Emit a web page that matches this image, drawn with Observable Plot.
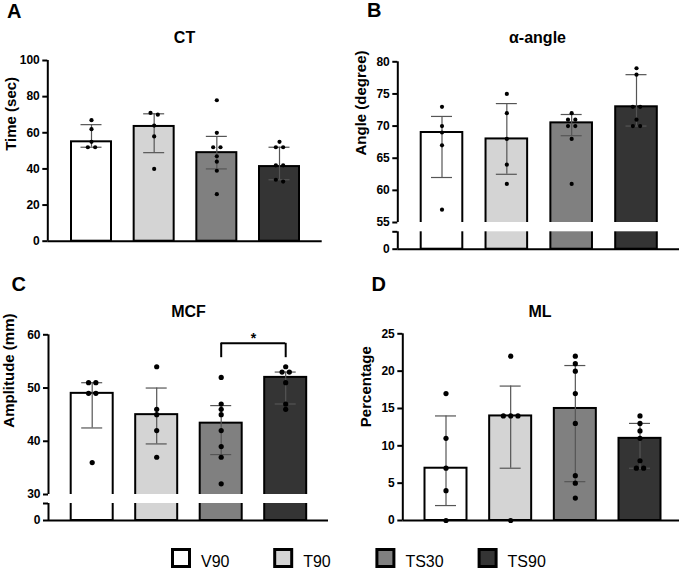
<!DOCTYPE html>
<html><head><meta charset="utf-8">
<script src="https://cdn.jsdelivr.net/npm/d3@7"></script>
<script src="https://cdn.jsdelivr.net/npm/@observablehq/plot@0.6"></script>
<style>
body{margin:0;background:#fff;}
#fig{position:relative;width:685px;height:571px;overflow:hidden;font-family:"Liberation Sans",Arial,sans-serif;}
#fig > svg, #fig > div{position:absolute;}
</style></head><body><div id="fig"></div>
<script>
// ---------- data ----------
const groups = ["V90", "T90", "TS30", "TS90"];
const fills = ["#ffffff", "#d4d4d4", "#808080", "#343434"];

// A: CT
const ctTitle = "CT", ctLabel = "Time (sec)";
const ctBar = [55, 63.5, 49, 41.3];
const ctLow = [52, 49, 40, 34];
const ctHigh = [64.5, 70.5, 58, 52];
const ctPoints = [[67, 62, 55, 52, 52], [71, 70, 64, 58, 40], [78, 60, 52, 52, 47, 44, 39, 26], [55, 52, 52, 42, 42, 34, 33]];
const ctTicks = [0, 20, 40, 60, 80, 100];

// B: alpha-angle
const angTitle = "α-angle", angLabel = "Angle (degree)";
const angBar = [69, 68, 70.5, 73];
const angLow = [62, 62.5, 68.5, 70];
const angHigh = [71.5, 73.5, 71.8, 78];
const angPoints = [[73, 70, 69, 67, 57], [75, 72, 68, 64, 61], [72, 71, 71, 70, 70, 68, 61], [79, 78, 73, 73, 71, 70, 70]];
const angTicks = [0, 55, 60, 65, 70, 75, 80];
const angBreak = [40, 55];

// C: MCF
const mcfTitle = "MCF", mcfLabel = "Amplitude (mm)";
const mcfBar = [49, 45, 43.4, 52];
const mcfLow = [42.5, 39.5, 37.5, 47];
const mcfHigh = [51, 50, 46.7, 53];
const mcfPoints = [[51, 51, 49, 49, 36], [54, 46, 45, 42, 37], [52, 47, 46, 45, 42, 39, 37, 32], [54, 53, 53, 51, 47, 46]];
const mcfTicks = [0, 30, 40, 50, 60];
const mcfBreak = [20, 30];
const mcfSig = [{a: 2, b: 3, y: 58.4, drop: 55.7, text: "*"}];

// D: ML
const mlTitle = "ML", mlLabel = "Percentage";
const mlBar = [7, 14, 15, 11];
const mlLow = [2, 7, 5.2, 7];
const mlHigh = [14, 18, 20.75, 13];
const mlPoints = [[17, 11, 7, 4, 0], [22, 14, 14, 14, 0], [22, 21, 20, 17, 13, 6, 5, 3], [14, 13, 12, 11, 8, 7, 7]];
const mlTicks = [0, 5, 10, 15, 20, 25];

// ---------- helpers ----------
function placeDots(vals, yPx, r) {
  const s = 7.3;
  const sorted = vals.slice().sort((a, b) => b - a);
  const rows = d3.groups(sorted, v => v);
  const out = [];
  let prev = null;
  for (const [v, arr] of rows) {
    const n = arr.length;
    const row = arr.map((val, j) => ({v: val, off: (j - (n - 1) / 2) * s}));
    if (prev && prev.length === 1 && n === 1 && Math.abs(yPx(prev[0].v) - yPx(v)) < 2 * r) {
      prev[0].off = -s / 2; row[0].off = s / 2;
    }
    out.push(...row);
    prev = row;
  }
  return out;
}

function makePanel(c) {
  const k = (c.c3 - c.c0) / 3;
  const x0 = -(c.c0 - c.mL) / k;
  const x1 = 3 + (c.width - c.mR - c.c3) / k;
  // broken-axis mapping: data value -> continuous axis position (pixel-proportional), fed to Plot's linear y scale
  const f = d3.scaleLinear(c.yDomain, c.yRange);
  const top = d3.min(c.yRange), bottom = d3.max(c.yRange);
  const bars = groups.map((g, i) => ({g, i, v: c.bar[i], lo: c.low[i], hi: c.high[i], fill: fills[i]}));
  const dots = [];
  c.points.forEach((vals, i) => placeDots(vals, f, c.r).forEach(p => dots.push({g: groups[i], v: p.v, x: i + p.off / k})));
  const hw = c.barHalf / k, cap = 10.5 / k;
  const tickVals = c.brk ? [...c.ticks, c.brk[0]].sort((a, b) => a - b) : c.ticks;
  const labelOf = new Map(tickVals.map(t => [f(t), (c.brk && t === c.brk[0]) ? "" : String(t)]));
  const segs = c.brk ? [[0, c.brk[0]], [c.brk[1], d3.max(c.yDomain)]] : [[0, d3.max(c.yDomain)]];
  const marks = [
    Plot.rect(bars, {x1: d => d.i - hw, x2: d => d.i + hw, y1: () => f(0), y2: d => f(d.v), fill: "fill", stroke: "black", strokeWidth: 2}),
    Plot.ruleX(bars, {x: "i", y1: d => f(d.lo), y2: d => f(d.hi), stroke: "#555", strokeWidth: 1.2}),
    Plot.ruleY(bars, {y: d => f(d.lo), x1: d => d.i - cap, x2: d => d.i + cap, stroke: "#555", strokeWidth: 1.2}),
    Plot.ruleY(bars, {y: d => f(d.hi), x1: d => d.i - cap, x2: d => d.i + cap, stroke: "#555", strokeWidth: 1.2}),
    Plot.dot(dots, {x: "x", y: d => f(d.v), r: c.r, fill: "black", stroke: null})
  ];
  if (c.brk) marks.push(Plot.rect([c.brk], {x1: x0, x2: x1, y1: d => f(d[0]), y2: d => f(d[1]), fill: "white"}));
  marks.push(
    Plot.ruleX(segs, {x: x0, y1: d => f(d[0]), y2: d => f(d[1]), stroke: "black", strokeWidth: 2}),
    Plot.ruleY([0], {y: () => f(0), stroke: "black", strokeWidth: 2}),
    Plot.axisY({ticks: tickVals.map(f), tickSize: 5, tickPadding: 3, tickFormat: p => labelOf.get(p) ?? "",
      fontSize: 12, fontWeight: "bold", strokeWidth: 2, label: null}),
    Plot.text([c.label], {text: d => d, frameAnchor: "left", dx: c.labelDx, rotate: -90, fontSize: 15, fontWeight: "bold", fill: "black"})
  );
  if (c.sig) {
    marks.push(
      Plot.ruleY(c.sig, {y: d => f(d.y), x1: "a", x2: "b", stroke: "black", strokeWidth: 2}),
      Plot.ruleX(c.sig, {x: "a", y1: d => f(d.drop), y2: d => f(d.y), stroke: "black", strokeWidth: 2}),
      Plot.ruleX(c.sig, {x: "b", y1: d => f(d.drop), y2: d => f(d.y), stroke: "black", strokeWidth: 2}),
      Plot.text(c.sig, {x: d => (d.a + d.b) / 2, y: d => f(d.y + 0.9), text: "text", fontSize: 14, fontWeight: "bold", fill: "black"})
    );
  }
  const svg = Plot.plot({
    width: c.width, height: c.height,
    marginLeft: c.mL, marginRight: c.mR, marginTop: top, marginBottom: c.height - bottom,
    x: {domain: [x0, x1], axis: null},
    y: {domain: [bottom, top], axis: null},
    color: {type: "identity"},
    style: {fontFamily: "'Liberation Sans', Arial, sans-serif", fontWeight: "bold", fontSize: "12px", color: "black", background: "transparent", overflow: "visible"},
    marks
  });
  svg.style.left = c.left + "px";
  svg.style.top = c.top + "px";
  return svg;
}

const fig = document.getElementById("fig");
const panels = [
  {left: 0, top: 0, width: 340, height: 260, mL: 47.3, mR: 18.3, yDomain: [0, 100], yRange: [240.7, 60],
   c0: 91, c3: 279, barHalf: 20, r: 2.1, labelDx: -37, label: ctLabel, bar: ctBar, low: ctLow, high: ctHigh, points: ctPoints, ticks: ctTicks},
  {left: 340, top: 0, width: 345, height: 260, mL: 57.3, mR: 6, yDomain: [0, angBreak[0], angBreak[1], 80], yRange: [248.7, 231.3, 222, 61.3],
   c0: 101.5, c3: 296, barHalf: 20.8, r: 2.1, labelDx: -37, label: angLabel, bar: angBar, low: angLow, high: angHigh, points: angPoints, ticks: angTicks, brk: angBreak},
  {left: 0, top: 270, width: 340, height: 265, mL: 48, mR: 12, yDomain: [0, mcfBreak[0], mcfBreak[1], 60], yRange: [250, 233, 224, 64.3],
   c0: 91.7, c3: 285.2, barHalf: 21, r: 2.6, labelDx: -39, label: mcfLabel, bar: mcfBar, low: mcfLow, high: mcfHigh, points: mcfPoints, ticks: mcfTicks, brk: mcfBreak, sig: mcfSig},
  {left: 340, top: 270, width: 345, height: 265, mL: 62.3, mR: 6, yDomain: [0, 25], yRange: [250, 63.3],
   c0: 105.5, c3: 299.5, barHalf: 21, r: 2.6, labelDx: -37, label: mlLabel, bar: mlBar, low: mlLow, high: mlHigh, points: mlPoints, ticks: mlTicks}
];
panels.forEach(p => fig.appendChild(makePanel(p)));

// ---------- overlay text: letters, titles, legend ----------
const ov = d3.select(fig).append("svg").attr("width", 685).attr("height", 571)
  .style("left", "0px").style("top", "0px")
  .style("font-family", "'Liberation Sans', Arial, sans-serif");
const letters = [["A", 7, 18.3], ["B", 367, 17.3], ["C", 11.5, 290.7], ["D", 371.5, 290.7]];
ov.selectAll("text.letter").data(letters).join("text").attr("class", "letter")
  .attr("x", d => d[1]).attr("y", d => d[2]).attr("font-size", 20).attr("font-weight", "bold").text(d => d[0]);
const titles = [[ctTitle, 184.5, 43.3], [angTitle, 537.5, 43.3], [mcfTitle, 188.5, 316.7], [mlTitle, 540, 316.7]];
ov.selectAll("text.title").data(titles).join("text").attr("class", "title")
  .attr("x", d => d[1]).attr("y", d => d[2]).attr("text-anchor", "middle").attr("font-size", 16).attr("font-weight", "bold").text(d => d[0]);
const lg = ov.selectAll("g.leg").data(groups).join("g").attr("class", "leg")
  .attr("transform", (d, i) => `translate(${171 + i * 102.2},548)`);
lg.append("rect").attr("x", 1.5).attr("y", 1.5).attr("width", 17).attr("height", 17)
  .attr("fill", (d, i) => fills[i]).attr("stroke", "black").attr("stroke-width", 3);
lg.append("text").attr("x", 30).attr("y", 18.5).attr("font-size", 16).text(d => d);
</script></body></html>
